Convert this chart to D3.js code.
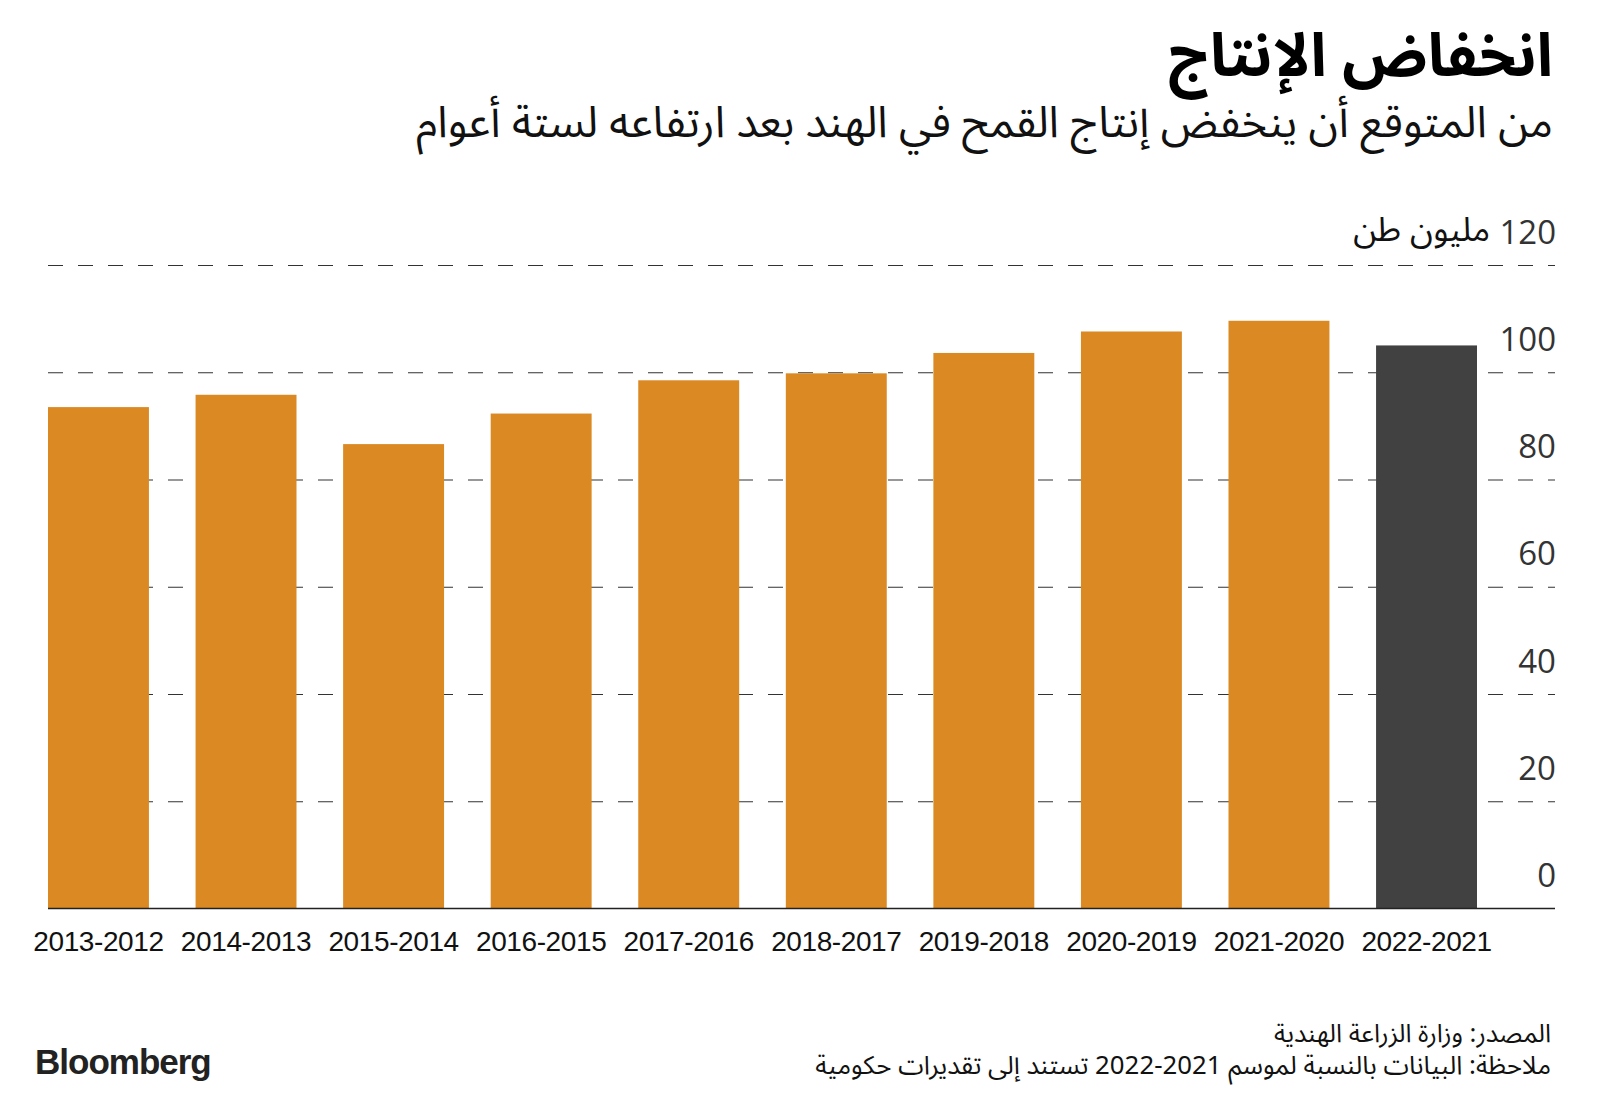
<!DOCTYPE html>
<html><head><meta charset="utf-8">
<script src="https://cdn.jsdelivr.net/npm/d3@7"></script>
<style>
body{margin:0;background:#fff}
.ar{font-family:"Noto Sans Arabic","DejaVu Sans",sans-serif}
</style>
</head><body><svg id="c" width="1600" height="1094"></svg>
<script>
const categories = ["2013-2012","2014-2013","2015-2014","2016-2015","2017-2016","2018-2017","2019-2018","2020-2019","2021-2020","2022-2021"];
const production = [93.5, 95.8, 86.6, 92.3, 98.5, 99.8, 103.6, 107.6, 109.6, 105.0];
const estimated = ["2022-2021"];
const yTicks = [0, 20, 40, 60, 80, 100, 120];
const titleText = "انخفاض الإنتاج";
const subtitleText = "من المتوقع أن ينخفض إنتاج القمح في الهند بعد ارتفاعه لستة أعوام";
const unitText = "مليون طن";
const sourceText = "المصدر: وزارة الزراعة الهندية";
const noteText = "ملاحظة: البيانات بالنسبة لموسم 2021-2022 تستند إلى تقديرات حكومية";

const svg = d3.select("#c");
svg.append("rect").attr("width",1600).attr("height",1094).attr("fill","#fff");

const mLeft = 48, mRight = 1555, plotRight = 1477, mTop = 265, mBottom = 908.5;
const x = d3.scaleBand().domain(categories).range([mLeft, plotRight]).paddingInner(0.316).paddingOuter(0);
const y = d3.scaleLinear().domain([0, 120]).range([mBottom, mTop]);

// gridlines + tick labels
const yAxis = d3.axisLeft(y).tickValues(yTicks).tickSize(mRight - mLeft).tickFormat(d3.format("d"));
const ga = svg.append("g").attr("transform", `translate(${mRight},0)`).call(yAxis);
ga.select(".domain").remove();
ga.selectAll(".tick line")
  .attr("stroke", "#333").attr("stroke-width", 1.2)
  .attr("stroke-dasharray", "15,15")
  .attr("stroke-dashoffset", 8);
ga.selectAll(".tick").filter(d => d === 0).select("line").attr("stroke-opacity", 0);
ga.selectAll(".tick text")
  .attr("x", 1).attr("dy", -22).attr("text-anchor", "end")
  .attr("fill", "#333")
  .style("font-family", "'Open Sans', sans-serif").style("font-size", "33px");

// bars
svg.append("g").selectAll("rect").data(categories).join("rect")
  .attr("x", d => x(d)).attr("width", x.bandwidth())
  .attr("y", (d,i) => y(production[i]))
  .attr("height", (d,i) => y(0) - y(production[i]))
  .attr("fill", d => estimated.includes(d) ? "#414141" : "#DA8923");

// baseline
svg.append("line").attr("x1", mLeft).attr("x2", mRight).attr("y1", y(0)).attr("y2", y(0))
  .attr("stroke", "#222").attr("stroke-width", 1.5);

// x axis labels
const xAxis = d3.axisBottom(x).tickSize(0).tickPadding(0);
const gx = svg.append("g").attr("transform", `translate(0,${mBottom})`).call(xAxis);
gx.select(".domain").remove();
gx.selectAll(".tick text").attr("y", 42).attr("dy", 0)
  .attr("fill", "#111")
  .style("font-family", "'Liberation Sans', Arial, sans-serif").style("font-size", "28px")
  .style("letter-spacing", "-0.4px");

// unit label
svg.append("text").attr("class","ar").attr("x", 1490).attr("y", y(120) - 24)
  .attr("text-anchor","end").attr("fill","#111").style("font-size","34px").text(unitText);

// title / subtitle
svg.append("text").attr("class","ar").attr("x", 1553).attr("y", 76)
  .attr("direction","rtl").attr("text-anchor","start")
  .attr("fill","#000").style("font-size","60px").style("font-weight","bold").text(titleText);
svg.append("text").attr("class","ar").attr("x", 1553).attr("y", 137)
  .attr("direction","rtl").attr("text-anchor","start")
  .attr("fill","#111").style("font-size","43.7px").text(subtitleText);

// footer
svg.append("text").attr("class","ar").attr("x", 1551).attr("y", 1042)
  .attr("direction","rtl").attr("text-anchor","start")
  .attr("fill","#111").style("font-size","25.5px").text(sourceText);
svg.append("text").attr("class","ar").attr("x", 1551).attr("y", 1074)
  .attr("direction","rtl").attr("text-anchor","start")
  .attr("fill","#111").style("font-size","25.8px").text(noteText);

svg.append("text").attr("x", 35).attr("y", 1074)
  .attr("fill","#222").style("font-family","'Liberation Sans', Arial, sans-serif")
  .style("font-size","35px").style("font-weight","bold").style("letter-spacing","-1px")
  .text("Bloomberg");
</script>
</body></html>
